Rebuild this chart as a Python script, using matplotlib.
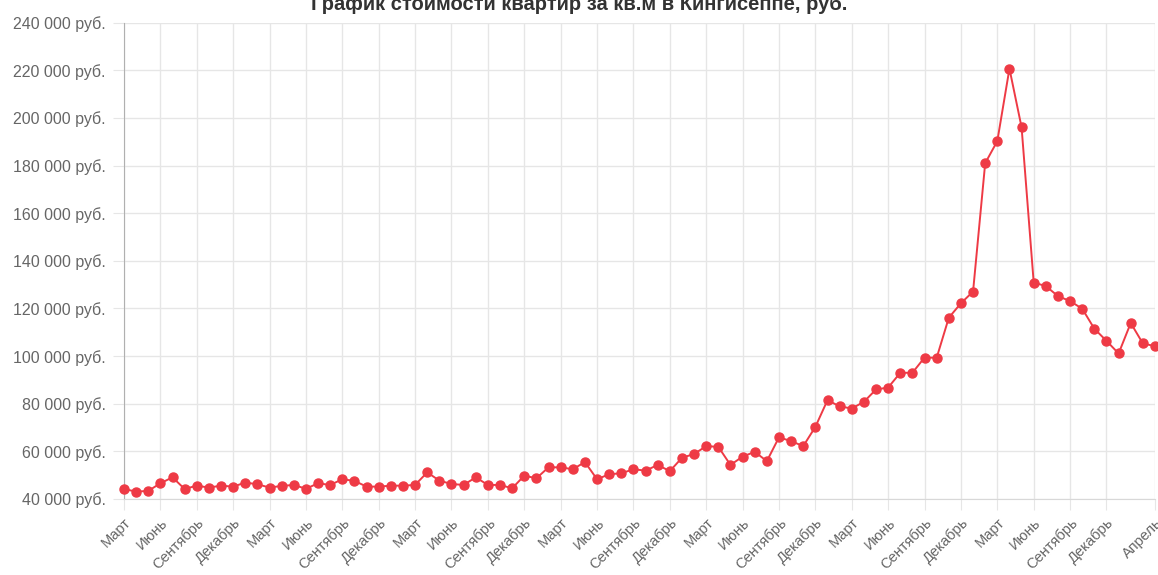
import matplotlib.pyplot as plt
import numpy as np

plt.rcParams['font.family'] = ['Liberation Sans', 'DejaVu Sans']

# цена за кв.м по месяцам, начиная с марта
prices = [44200, 43100, 43400, 46600, 49100, 44200, 45600, 44800, 45600, 45200,
          46900, 46200, 44800, 45500, 45900, 44300, 46600, 45900, 48300, 47600,
          45200, 45200, 45600, 45600, 45900, 51200, 47700, 46300, 45900, 49100,
          45900, 45900, 44500, 49800, 48700, 53300, 53300, 52500, 55500, 48300,
          50400, 50800, 52500, 51900, 54300, 51700, 57300, 58900, 62200, 61900,
          54300, 57800, 59800, 55900, 65900, 64300, 62200, 70300, 81500, 78900,
          78000, 80800, 86000, 86800, 93000, 93000, 99400, 99300, 116100, 122200,
          127100, 181000, 190300, 220700, 196100, 130900, 129400, 125200, 123100, 119900,
          111500, 106400, 101100, 113900, 105300, 104200]

month_names = ['Январь', 'Февраль', 'Март', 'Апрель', 'Май', 'Июнь', 'Июль',
               'Август', 'Сентябрь', 'Октябрь', 'Ноябрь', 'Декабрь']
start_month = 2  # март

y_ticks = [40000, 60000, 80000, 100000, 120000, 140000, 160000, 180000, 200000, 220000, 240000]

x = np.arange(len(prices))
labels = [month_names[(start_month + i) % 12] for i in x]
tick_pos = list(range(0, len(prices) - 3, 3)) + [len(prices) - 1]

fig = plt.figure(figsize=(11.58, 5.75), dpi=100)
ax = fig.add_axes([124 / 1158, 1 - 499 / 575, 1031 / 1158, (499 - 22.7) / 575])

red = '#ee3a45'
ax.plot(x, prices, color=red, lw=1.4, marker='o', ms=6.5,
        mfc=red, mec=red, clip_on=False, zorder=3)

ax.set_xlim(0, len(prices) - 1)
ax.set_ylim(40000, 240000)
ax.set_yticks(y_ticks)
ax.set_yticklabels([f'{v:,}'.replace(',', ' ') + ' руб.' for v in y_ticks])
ax.set_xticks(tick_pos)
ax.set_xticklabels([labels[i] for i in tick_pos], rotation=45, ha='right',
                   va='top', rotation_mode='anchor')

ax.grid(True, color='#e6e6e6', lw=1)
ax.set_axisbelow(True)
for s in ['top', 'right']:
    ax.spines[s].set_visible(False)
ax.spines['left'].set_color('#b0b0b0')
ax.spines['bottom'].set_color('#d8d8d8')
ax.tick_params(axis='both', colors='#e6e6e6', length=8, labelcolor='#666666')
ax.tick_params(axis='y', labelsize=11.5, pad=5)
ax.tick_params(axis='x', labelsize=10.5, pad=4)

fig.text(0.5, 1 - 10 / 575, 'График стоимости квартир за кв.м в Кингисеппе, руб.',
         ha='center', va='baseline', fontsize=14.5, fontweight='bold', color='#333333')

fig.savefig('out.png', dpi=100)
